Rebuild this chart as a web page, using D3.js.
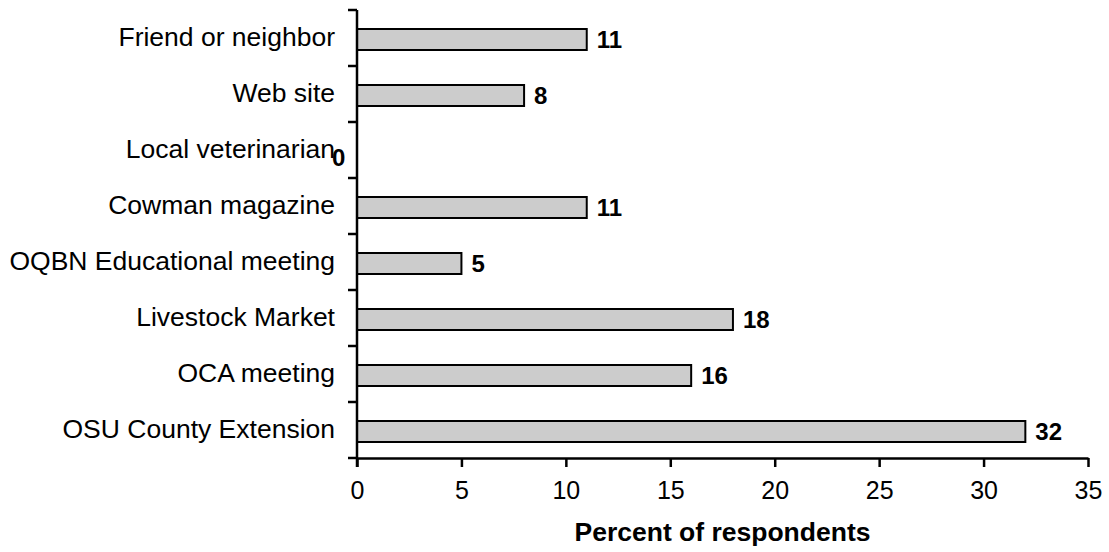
<!DOCTYPE html>
<html>
<head>
<meta charset="utf-8">
<script src="https://cdn.jsdelivr.net/npm/d3@7"></script>
<style>
  html, body { margin: 0; padding: 0; background: #fff; }
  svg { display: block; font-family: Arial, "Liberation Sans", sans-serif; }
</style>
</head>
<body>
<svg id="chart" width="1109" height="552"></svg>
<script>
// Sources of information, top to bottom
const categories = [
  "Friend or neighbor",
  "Web site",
  "Local veterinarian",
  "Cowman magazine",
  "OQBN Educational meeting",
  "Livestock Market",
  "OCA meeting",
  "OSU County Extension"
];
const percents = [11, 8, 0, 11, 5, 18, 16, 32];
const xTicks = [0, 5, 10, 15, 20, 25, 30, 35];
const xTitle = "Percent of respondents";

const svg = d3.select("#chart");
const plotLeft = 357, plotRight = 1088, plotTop = 10, plotBottom = 458;

const x = d3.scaleLinear().domain([0, 35]).range([plotLeft, plotRight]);
const y = d3.scaleBand().domain(categories).range([plotTop, plotBottom]).padding(0);

const barH = 21;
const barY = d => y(d) + y.bandwidth() / 2 + 1.5 - barH / 2;
const rows = categories.map((c, i) => ({ c, v: percents[i] }));

// Bars
svg.append("g")
  .selectAll("rect")
  .data(rows.filter(d => d.v > 0))
  .join("rect")
  .attr("x", x(0))
  .attr("y", d => barY(d.c))
  .attr("width", d => x(d.v) - x(0))
  .attr("height", barH)
  .attr("fill", "#cccccc")
  .attr("stroke", "#000")
  .attr("stroke-width", 2);

// Value labels
svg.append("g")
  .selectAll("text")
  .data(rows)
  .join("text")
  .attr("x", d => d.v === 0 ? x(0) - 25 : x(d.v) + 10)
  .attr("y", d => y(d.c) + y.bandwidth() / 2 + 1.5 + (d.v === 0 ? 6 : 0))
  .attr("dy", "0.36em")
  .attr("font-size", 24)
  .attr("font-weight", "bold")
  .attr("fill", "#000")
  .text(d => d.v);

// Y axis labels
const yAxis = svg.append("g")
  .attr("transform", `translate(${plotLeft},0)`)
  .call(d3.axisLeft(y).tickSize(0).tickPadding(22));
yAxis.select(".domain").remove();
yAxis.selectAll("text")
  .attr("font-size", 26.5)
  .attr("fill", "#000")
  .attr("font-family", "Arial, 'Liberation Sans', sans-serif");

// Y axis line with ticks at band boundaries
const yBounds = categories.map(c => y(c)).concat([plotBottom]);
svg.append("line")
  .attr("x1", plotLeft).attr("x2", plotLeft)
  .attr("y1", plotTop).attr("y2", plotBottom + 9)
  .attr("stroke", "#000").attr("stroke-width", 2.5);
svg.append("g").selectAll("line")
  .data(yBounds)
  .join("line")
  .attr("x1", plotLeft - 9).attr("x2", plotLeft)
  .attr("y1", d => d).attr("y2", d => d)
  .attr("stroke", "#000").attr("stroke-width", 2.5);

// X axis
const xAxis = svg.append("g")
  .attr("transform", `translate(0,${plotBottom})`)
  .call(d3.axisBottom(x).tickValues(xTicks).tickSize(9).tickPadding(14).tickSizeOuter(0));
xAxis.select(".domain").attr("stroke-width", 2.5);
xAxis.selectAll(".tick line").attr("stroke-width", 2.5);
xAxis.selectAll("text")
  .attr("font-size", 25)
  .attr("fill", "#000")
  .attr("font-family", "Arial, 'Liberation Sans', sans-serif");

// X axis title
svg.append("text")
  .attr("x", (plotLeft + plotRight) / 2)
  .attr("y", 541)
  .attr("text-anchor", "middle")
  .attr("font-size", 26.5)
  .attr("font-weight", "bold")
  .attr("fill", "#000")
  .text(xTitle);
</script>
</body>
</html>
